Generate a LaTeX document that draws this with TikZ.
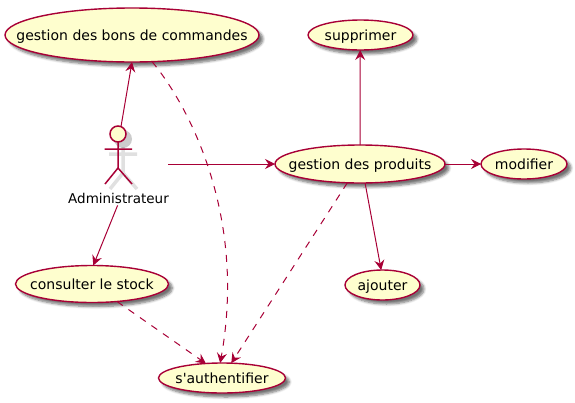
\documentclass[tikz,border=0pt]{standalone}
\usepackage{fontspec}
\setmainfont{DejaVu Sans}
\usetikzlibrary{arrows.meta,shapes.geometric,shadows.blur}
\definecolor{umlline}{HTML}{A80036}
\definecolor{umlfill}{HTML}{FEFECE}
\newcommand{\uctext}[1]{\smash{\raisebox{-0.37em}{\makebox[0pt]{#1}}}}
\tikzset{
  x=1pt,y=-1pt,
  usecase/.style={ellipse,draw=umlline,line width=1.4pt,fill=umlfill,inner sep=0pt,outer sep=0pt,
    font=\fontsize{14}{16}\selectfont,text=black,
    blur shadow={shadow xshift=4pt,shadow yshift=-4pt,shadow blur steps=6,shadow blur radius=2.5pt,shadow opacity=55}},
  flow/.style={draw=umlline,line width=1pt,-{Stealth[inset=3.5pt,length=10pt,width=10pt]}},
  dep/.style={flow,dash pattern=on 7pt off 7pt},
  limb/.style={draw=umlline,line width=1.5pt},
  limbshadow/.style={draw=black,opacity=0.12,line width=3.5pt},
  actorname/.style={font=\fontsize{14}{16}\selectfont,text=black,inner sep=2pt}
}
\begin{document}
\begin{tikzpicture}
\useasboundingbox (0,0) rectangle (575,402);
\node[usecase,minimum width=254pt,minimum height=54pt] (bons) at (132,35) {\uctext{gestion des bons de commandes}};
\node[usecase,minimum width=105pt,minimum height=30pt] (supprimer) at (360.5,35) {\uctext{supprimer}};
\node[usecase,minimum width=170pt,minimum height=38pt] (produits) at (360,164) {\uctext{gestion des produits}};
\node[usecase,minimum width=86pt,minimum height=30pt] (modifier) at (524,164) {\uctext{modifier}};
\node[usecase,minimum width=75pt,minimum height=30pt] (ajouter) at (382.5,285) {\uctext{ajouter}};
\node[usecase,minimum width=153pt,minimum height=37pt] (stock) at (92,284) {\uctext{consulter le stock}};
\node[usecase,minimum width=127pt,minimum height=30pt] (auth) at (222,378) {\uctext{s\textquotesingle authentifier}};
% actor
\path[limbshadow] (123,147) -- (123,173) (109,154) -- (137,154) (123,173) -- (110,189) (123,173) -- (137,189);
\fill[black,opacity=0.2] (123,139) circle (9);
\node[circle,draw=umlline,line width=1.5pt,fill=umlfill,minimum size=16pt,inner sep=0pt,outer sep=0pt] (head) at (118,134) {};
\coordinate (neck) at (118,142);
\coordinate (hip) at (118,168);
\coordinate (handl) at (104.5,149);
\coordinate (handr) at (132,149);
\coordinate (footl) at (105,184);
\coordinate (footr) at (132,184);
\path[limb] (neck) -- (hip) (handl) -- (handr) (hip) -- (footl) (hip) -- (footr);
\node[actorname] (admin) at (118.5,198) {\fontsize{13.5}{16}\selectfont Administrateur};
\coordinate (actorright) at (168,164);
% connectors
\draw[flow] (head.68) -- (bons.-90);
\draw[flow] (actorright) -- (produits.west);
\draw[flow] (admin.-97) -- (stock.86);
\draw[dep] (stock.-35) -- (auth.138);
\draw[dep] (bons.-53) .. controls +(35,42) and +(27,-150) .. (auth.97);
\draw[dep] (produits.-124) -- (auth.58);
\draw[flow] (produits.-75) -- (ajouter.95);
\draw[flow] (produits.north) -- (supprimer.-91);
\draw[flow] (produits.east) -- (modifier.west);
\end{tikzpicture}
\end{document}
